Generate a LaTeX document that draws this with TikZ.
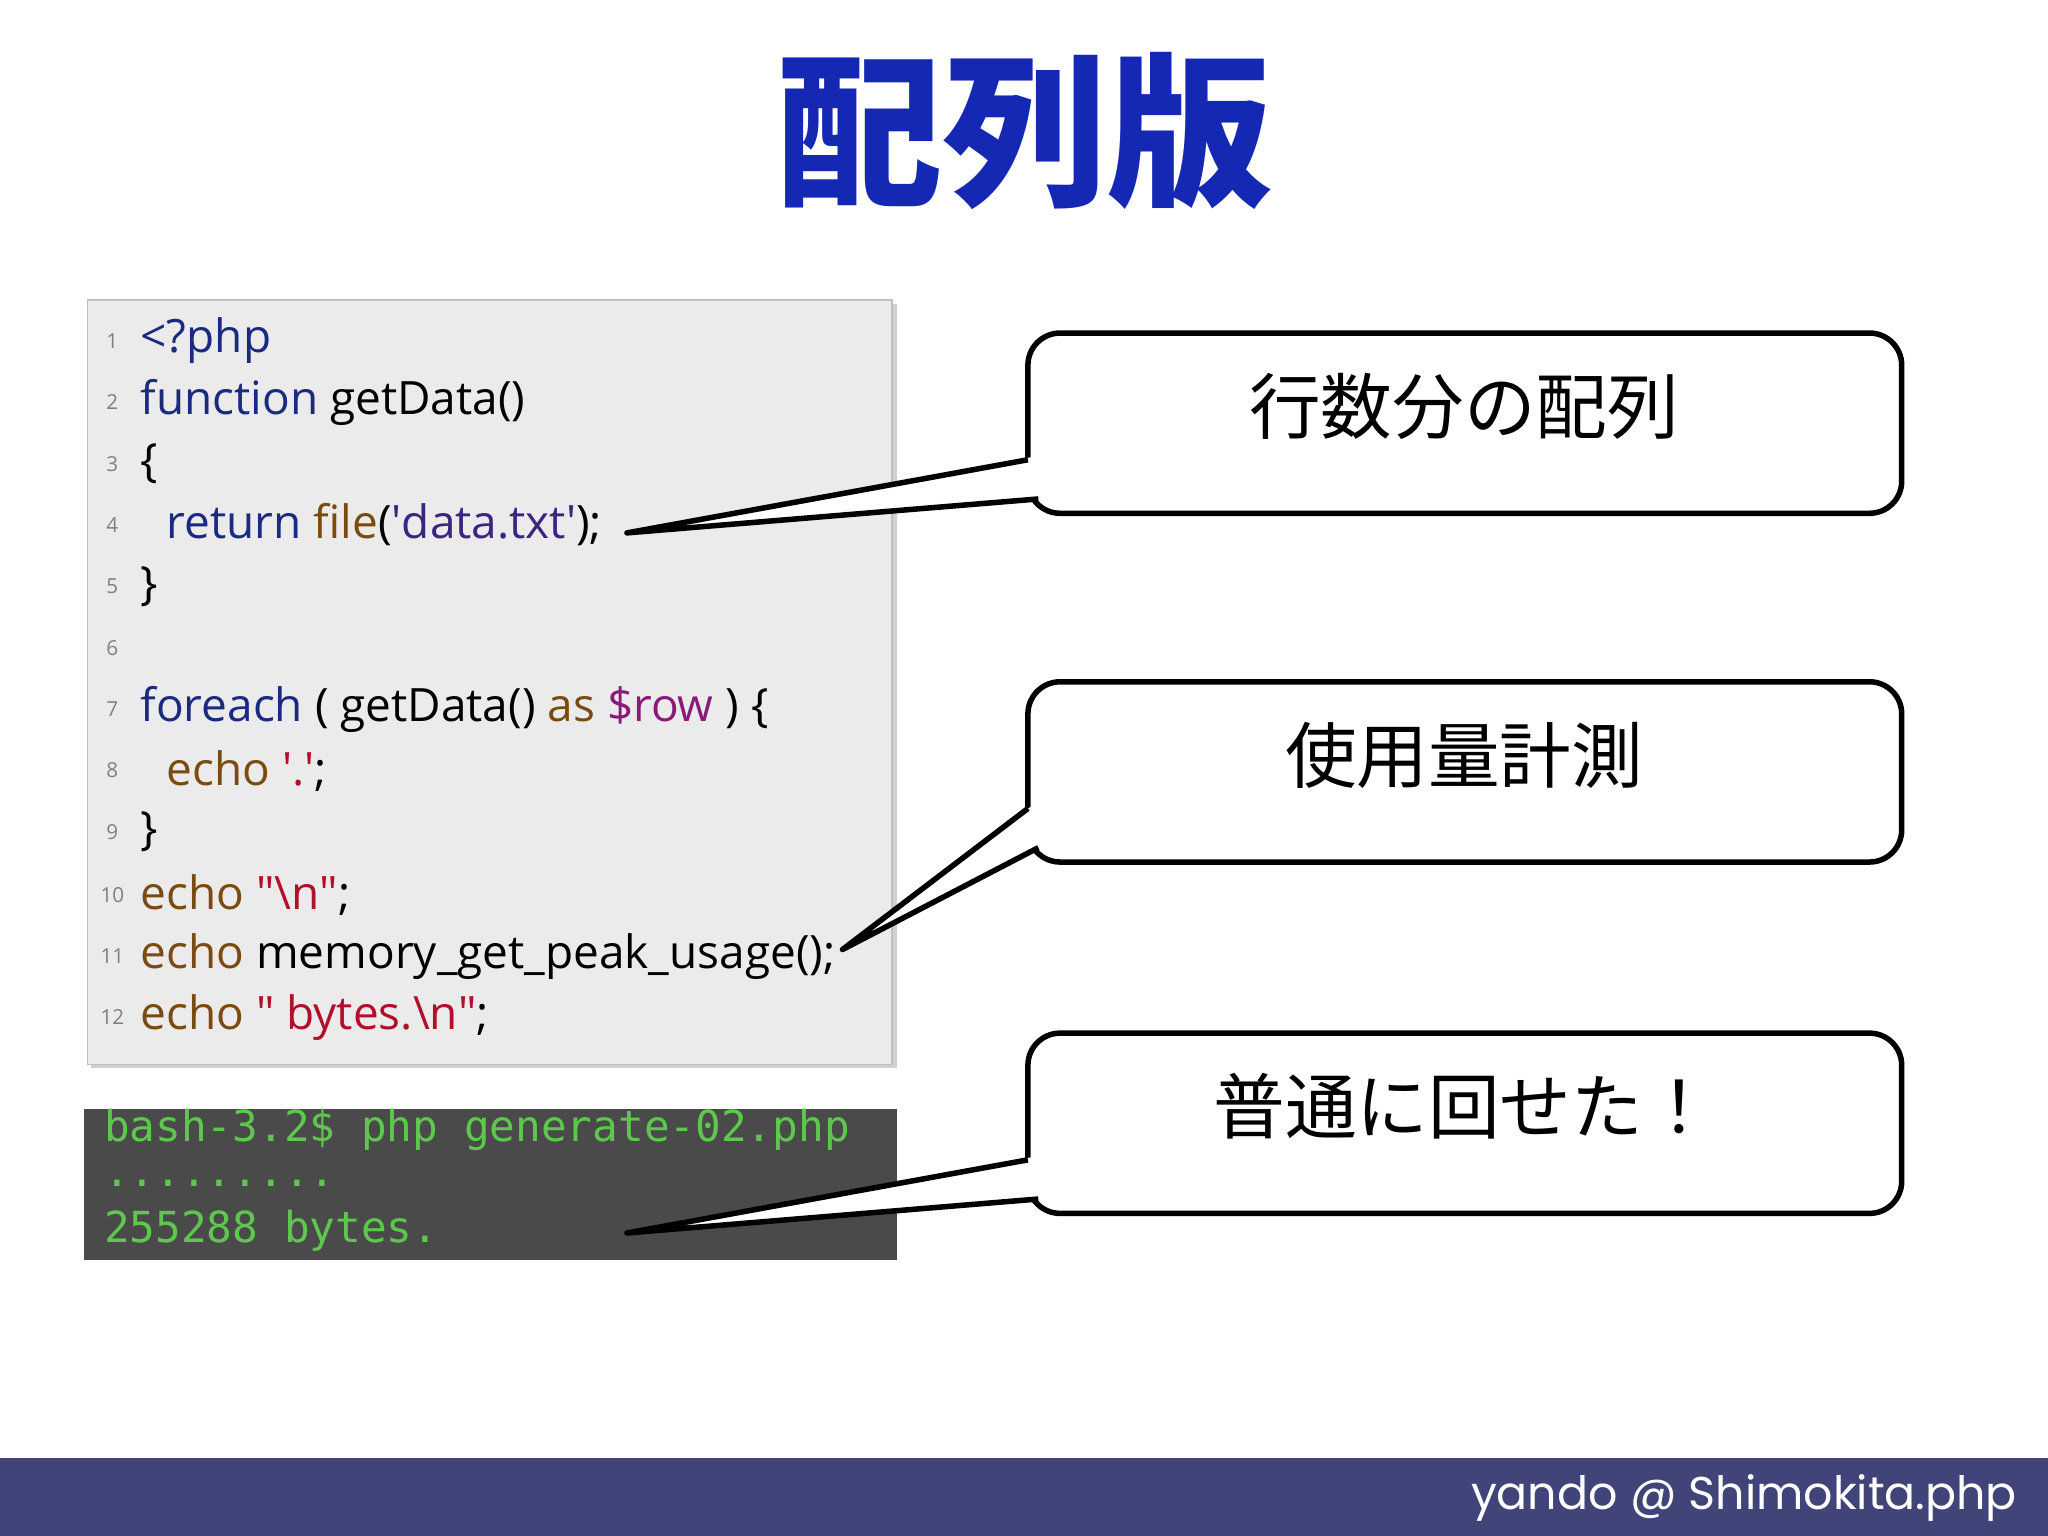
\documentclass[tikz,border=0pt]{standalone}
\usepackage{fontspec}
\setmainfont{Open Sans}
\newfontfamily\cjk{Noto Sans CJK JP}
\newfontfamily\mono{DejaVu Sans Mono}
\newfontfamily\foot{Poppins}
\definecolor{kw}{HTML}{1A2A80}
\definecolor{br}{HTML}{7A4A10}
\definecolor{st}{HTML}{B0102A}
\definecolor{pu}{HTML}{8A1A7A}
\definecolor{ttl}{HTML}{1428B4}
\definecolor{band}{HTML}{404478}
\definecolor{term}{HTML}{4A4A4A}
\definecolor{tg}{HTML}{5EC84E}
\newcommand\sq{\textquotesingle}
\newcommand\dq{\textquotedbl}
\begin{document}
\begin{tikzpicture}[x=0.01cm,y=-0.01cm,
  code/.style={anchor=west,inner sep=0,font=\fontsize{10}{11}\selectfont},
  ln/.style={anchor=center,inner sep=0,text=gray,font=\fontsize{4.5}{5}\selectfont},
  tt/.style={anchor=west,inner sep=0,text=tg,font=\mono\fontsize{9.3}{11}\selectfont},
  callbox/.style={draw=black,line width=1.2pt,fill=white,rounded corners=7pt},
  ctext/.style={font=\cjk\fontsize{15.6}{18}\selectfont}]
\useasboundingbox (0,0) rectangle (1568,1176);
\fill[white] (0,0) rectangle (1568,1176);
\node[text=ttl,font=\cjk\bfseries\fontsize{36}{40}\selectfont] (title) at (785,100) {配列版};
% code box
\fill[black!18] (70,233) rectangle (687,818);
\draw[black!25,fill=black!8] (67,230) coordinate (codeNW) rectangle (683,815) coordinate (codeSE);
\foreach \n/\y in {1/261,2/308,3/355,4/402,5/449,6/496,7/543,8/590,9/637,10/685,11/732,12/779}
  \node[ln] (l\n) at (86,\y) {\n};
\node[code] (c1) at (107,261) {\textcolor{kw}{<?php}};
\node[code] (c2) at (107,308) {\textcolor{kw}{function} getData()};
\node[code] (c3) at (107,355) {\{};
\node[code] (c4) at (127,402) {\textcolor{kw}{return} \textcolor{br}{file}(\textcolor{kw!70!pu}{\sq data.txt\sq});};
\node[code] (c5) at (107,449) {\}};
\node[code] (c7) at (107,543) {\textcolor{kw}{foreach} ( getData() \textcolor{br}{as} \textcolor{pu}{\$row} ) \{};
\node[code] (c8) at (127,590) {\textcolor{br}{echo} \textcolor{st}{\sq.\sq};};
\node[code] (c9) at (107,637) {\}};
\node[code] (c10) at (107,685) {\textcolor{br}{echo} \textcolor{st}{\dq\textbackslash n\dq};};
\node[code] (c11) at (107,732) {\textcolor{br}{echo} memory\_get\_peak\_usage();};
\node[code] (c12) at (107,779) {\textcolor{br}{echo} \textcolor{st}{\dq{} bytes.\textbackslash n\dq};};
% terminal
\fill[term] (64,849) coordinate (termNW) rectangle (687,965) coordinate (termSE);
\node[tt] (t1) at (79,865) {bash-3.2\$ php generate-02.php};
\node[tt] (t2) at (79,906) {.........};
\node[tt] (t3) at (79,942) {255288 bytes.};
% callouts
\coordinate (p1) at (480,408);
\coordinate (p2) at (645,727);
\coordinate (p3) at (480,944);
\foreach \i/\top/\pt/\txt in {1/255/p1/行数分の配列,2/522/p2/使用量計測,3/791/p3/普通に回せた！}{
  \draw[callbox] (787,\top) coordinate (bNW\i) rectangle (1456,\top+138) coordinate (bSE\i);
  \coordinate (ta\i) at (787,\top+97);
  \coordinate (tb\i) at (795,\top+127);
  \fill[white] (ta\i) ++(3,-2) -- (\pt) -- (tb\i) -- ++(12,-5) -- ++(0,-22) -- cycle;
  \draw[line width=1.2pt,line join=round] (ta\i) -- (\pt) -- (tb\i);
  \node[ctext] (txt\i) at (1121,\top+56) {\txt};
}
% footer
\fill[band] (0,1116) rectangle (1568,1176);
\node[anchor=east,text=white,font=\foot\fontsize{10}{12}\selectfont,inner sep=0] (ft) at (1545,1147) {yando @ Shimokita.php};
\end{tikzpicture}
\end{document}
